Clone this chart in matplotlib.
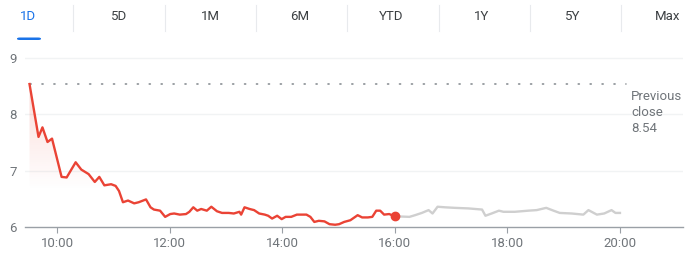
"""Intraday price chart (1D view): regular session in red, after-hours in grey."""
import numpy as np
import matplotlib
matplotlib.use("Agg")
import matplotlib.pyplot as plt
from matplotlib.patches import Polygon, FancyBboxPatch

plt.rcParams["font.family"] = ["Roboto", "DejaVu Sans"]

# regular session: hour of day, price
session_t = [9.51, 9.67, 9.74, 9.83, 9.91, 10.08, 10.17, 10.33, 10.43, 10.56, 10.67, 10.75,
             10.84, 10.96, 11.04, 11.10, 11.17, 11.26, 11.37, 11.45, 11.58, 11.66, 11.72,
             11.83, 11.92, 12.01, 12.08, 12.18, 12.29, 12.35, 12.42, 12.49, 12.56, 12.66,
             12.74, 12.84, 12.93, 13.05, 13.14, 13.24, 13.27, 13.33, 13.42, 13.50, 13.59,
             13.69, 13.75, 13.82, 13.91, 13.99, 14.06, 14.16, 14.26, 14.43, 14.50, 14.57,
             14.65, 14.75, 14.84, 14.94, 15.01, 15.10, 15.21, 15.34, 15.42, 15.52, 15.60,
             15.67, 15.74, 15.81, 15.90, 16.00]
session_p = [8.54, 7.60, 7.77, 7.51, 7.57, 6.89, 6.88, 7.15, 7.02, 6.94, 6.80, 6.89,
             6.74, 6.76, 6.73, 6.64, 6.44, 6.47, 6.42, 6.44, 6.49, 6.35, 6.31,
             6.29, 6.18, 6.23, 6.24, 6.22, 6.23, 6.27, 6.35, 6.29, 6.32, 6.29,
             6.36, 6.28, 6.25, 6.25, 6.24, 6.27, 6.22, 6.35, 6.32, 6.30, 6.24,
             6.22, 6.20, 6.15, 6.20, 6.14, 6.18, 6.18, 6.22, 6.22, 6.18, 6.09,
             6.11, 6.10, 6.05, 6.04, 6.05, 6.09, 6.12, 6.21, 6.17, 6.17, 6.18,
             6.29, 6.29, 6.22, 6.23, 6.19]

# after hours
after_t = [16.00, 16.26, 16.36, 16.48, 16.60, 16.67, 16.76, 16.89, 17.07, 17.31, 17.55,
           17.61, 17.72, 17.85, 17.93, 18.13, 18.37, 18.52, 18.69, 18.82, 18.93, 19.14,
           19.35, 19.44, 19.59, 19.72, 19.85, 19.92, 20.00]
after_p = [6.19, 6.18, 6.21, 6.25, 6.30, 6.24, 6.36, 6.35, 6.34, 6.33, 6.31,
           6.20, 6.24, 6.29, 6.27, 6.27, 6.29, 6.30, 6.34, 6.29, 6.25, 6.24,
           6.22, 6.30, 6.22, 6.24, 6.30, 6.25, 6.25]

prev_close = 8.54
x_ticks = [10, 12, 14, 16, 18, 20]
x_labels = ["10:00", "12:00", "14:00", "16:00", "18:00", "20:00"]
y_ticks = [6, 7, 8, 9]
tabs = ["1D", "5D", "1M", "6M", "YTD", "1Y", "5Y", "Max"]

RED = "#ea4335"
GREY_TXT = "#70757a"
W, H = 700, 259

fig = plt.figure(figsize=(7, 2.59), dpi=100)

# range tabs along the top
tab_x = [28, 119, 210, 300, 391, 482, 573, 668]
for i, (lab, x) in enumerate(zip(tabs, tab_x)):
    fig.text(x / W, 1 - 17 / H, lab, ha="center", va="center", fontsize=9.5,
             color="#1a73e8" if i == 0 else "#3c4043")
for x in [73, 165, 256, 347, 439, 530, 621]:
    fig.add_artist(plt.Line2D([x / W, x / W], [1 - 5 / H, 1 - 31 / H],
                              color="#e8eaed", lw=0.8))
fig.add_artist(FancyBboxPatch((17 / W, 1 - 40 / H), 24 / W, 2.5 / H,
                              boxstyle="round,pad=0,rounding_size=0.004",
                              fc="#1a73e8", ec="none", transform=fig.transFigure))

ax = fig.add_axes([25 / W, 32 / H, 658 / W, 174.5 / H])
ax.set_xlim(9.43, 21.12)
ax.set_ylim(6, 9.1)
for s in ["top", "right", "left"]:
    ax.spines[s].set_visible(False)
ax.spines["bottom"].set_color("#9aa0a6")
ax.spines["bottom"].set_linewidth(1.0)

for y in [7, 8, 9]:
    ax.axhline(y, color="#f1f3f4", lw=1.0, zorder=0)
ax.set_yticks(y_ticks)
ax.set_yticklabels([str(v) for v in y_ticks])
ax.set_xticks(x_ticks)
ax.set_xticklabels(x_labels)
ax.tick_params(axis="y", length=0, pad=6, labelsize=9.5, labelcolor=GREY_TXT)
ax.tick_params(axis="x", length=4, width=0.8, color="#9aa0a6", pad=3,
               labelsize=9.5, labelcolor=GREY_TXT)

# previous close
ax.plot([session_t[0], 20.1], [prev_close, prev_close], color="#80868b",
        lw=1.1, ls=(0, (0.8, 7)), dash_capstyle="round", zorder=1)
ax.text(20.2, 8.43, f"Previous\nclose\n{prev_close:.2f}", ha="left", va="top",
        fontsize=9.5, color=GREY_TXT, linespacing=1.3)

# gradient fill under the session line
grad = np.zeros((200, 2, 4))
grad[..., :3] = matplotlib.colors.to_rgb(RED)
ys = np.linspace(9.1, 6, 200)
grad[..., 3] = (np.clip((ys - 6.65) / (8.6 - 6.65), 0, 1) * 0.2)[:, None]
im = ax.imshow(grad, extent=[9.43, 21.12, 6, 9.1], aspect="auto", zorder=1,
               interpolation="bilinear")
poly = Polygon(list(zip(session_t, session_p)) + [(session_t[-1], 6), (session_t[0], 6)],
               closed=True, fc="none", ec="none", transform=ax.transData)
ax.add_patch(poly)
im.set_clip_path(poly)

ax.plot(after_t, after_p, color="#cfcfcf", lw=1.7, zorder=2, solid_joinstyle="round")
ax.plot(session_t, session_p, color=RED, lw=1.7, zorder=3, solid_joinstyle="round")
ax.plot(session_t[-1], session_p[-1], "o", color=RED, ms=6, zorder=4)

fig.savefig("out.png", dpi=100)
